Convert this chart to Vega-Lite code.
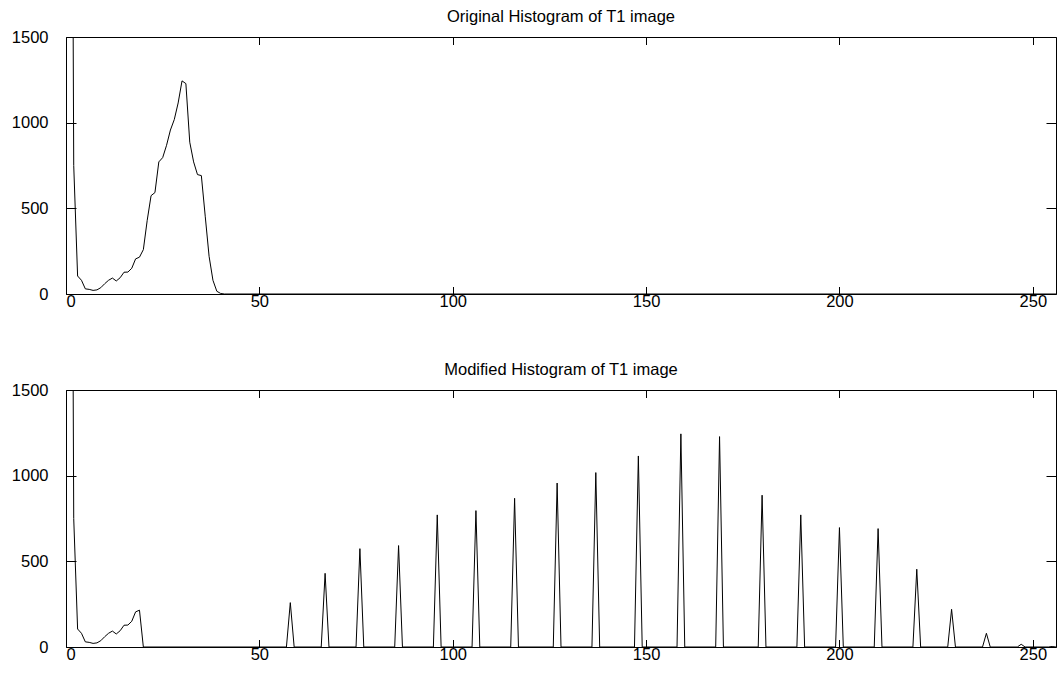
{
  "$schema": "https://vega.github.io/schema/vega-lite/v6.json",
  "background": "white",
  "padding": {"left": 10, "top": 8, "right": 2, "bottom": 5},
  "datasets": {
    "original": [
      {"level": 1, "count": 6000}, {"level": 2, "count": 750}, {"level": 3, "count": 105},
      {"level": 4, "count": 80}, {"level": 5, "count": 30}, {"level": 6, "count": 27},
      {"level": 7, "count": 21}, {"level": 8, "count": 24}, {"level": 9, "count": 37},
      {"level": 10, "count": 60}, {"level": 11, "count": 80}, {"level": 12, "count": 93},
      {"level": 13, "count": 76}, {"level": 14, "count": 95}, {"level": 15, "count": 127},
      {"level": 16, "count": 128}, {"level": 17, "count": 150}, {"level": 18, "count": 205},
      {"level": 19, "count": 215}, {"level": 20, "count": 259}, {"level": 21, "count": 430},
      {"level": 22, "count": 574}, {"level": 23, "count": 592}, {"level": 24, "count": 771},
      {"level": 25, "count": 796}, {"level": 26, "count": 868}, {"level": 27, "count": 957},
      {"level": 28, "count": 1018}, {"level": 29, "count": 1115}, {"level": 30, "count": 1244},
      {"level": 31, "count": 1228}, {"level": 32, "count": 886}, {"level": 33, "count": 771},
      {"level": 34, "count": 697}, {"level": 35, "count": 691}, {"level": 36, "count": 454},
      {"level": 37, "count": 220}, {"level": 38, "count": 80}, {"level": 39, "count": 16},
      {"level": 40, "count": 3}, {"level": 41, "count": 0}, {"level": 256, "count": 0}
    ],
    "modified": [
      {"level": 1, "count": 6000}, {"level": 2, "count": 750}, {"level": 3, "count": 105},
      {"level": 4, "count": 80}, {"level": 5, "count": 30}, {"level": 6, "count": 27},
      {"level": 7, "count": 21}, {"level": 8, "count": 24}, {"level": 9, "count": 37},
      {"level": 10, "count": 60}, {"level": 11, "count": 80}, {"level": 12, "count": 93},
      {"level": 13, "count": 76}, {"level": 14, "count": 95}, {"level": 15, "count": 127},
      {"level": 16, "count": 128}, {"level": 17, "count": 150}, {"level": 18, "count": 205},
      {"level": 19, "count": 215}, {"level": 20, "count": 0},
      {"level": 57, "count": 0}, {"level": 58, "count": 259}, {"level": 59, "count": 0},
      {"level": 66, "count": 0}, {"level": 67, "count": 430}, {"level": 68, "count": 0},
      {"level": 75, "count": 0}, {"level": 76, "count": 574}, {"level": 77, "count": 0},
      {"level": 85, "count": 0}, {"level": 86, "count": 592}, {"level": 87, "count": 0},
      {"level": 95, "count": 0}, {"level": 96, "count": 771}, {"level": 97, "count": 0},
      {"level": 105, "count": 0}, {"level": 106, "count": 796}, {"level": 107, "count": 0},
      {"level": 115, "count": 0}, {"level": 116, "count": 868}, {"level": 117, "count": 0},
      {"level": 126, "count": 0}, {"level": 127, "count": 957}, {"level": 128, "count": 0},
      {"level": 136, "count": 0}, {"level": 137, "count": 1018}, {"level": 138, "count": 0},
      {"level": 147, "count": 0}, {"level": 148, "count": 1115}, {"level": 149, "count": 0},
      {"level": 158, "count": 0}, {"level": 159, "count": 1244}, {"level": 160, "count": 0},
      {"level": 168, "count": 0}, {"level": 169, "count": 1228}, {"level": 170, "count": 0},
      {"level": 179, "count": 0}, {"level": 180, "count": 886}, {"level": 181, "count": 0},
      {"level": 189, "count": 0}, {"level": 190, "count": 771}, {"level": 191, "count": 0},
      {"level": 199, "count": 0}, {"level": 200, "count": 697}, {"level": 201, "count": 0},
      {"level": 209, "count": 0}, {"level": 210, "count": 691}, {"level": 211, "count": 0},
      {"level": 219, "count": 0}, {"level": 220, "count": 454}, {"level": 221, "count": 0},
      {"level": 228, "count": 0}, {"level": 229, "count": 220}, {"level": 230, "count": 0},
      {"level": 237, "count": 0}, {"level": 238, "count": 80}, {"level": 239, "count": 0},
      {"level": 246, "count": 0}, {"level": 247, "count": 16}, {"level": 248, "count": 0},
      {"level": 254, "count": 0}, {"level": 255, "count": 3}, {"level": 256, "count": 0}
    ]
  },
  "config": {
    "view": {"stroke": "black", "strokeWidth": 1},
    "font": "Liberation Sans",
    "axis": {
      "grid": false,
      "domain": false,
      "tickColor": "black",
      "tickWidth": 1,
      "labelColor": "black",
      "labelFont": "Liberation Sans",
      "labelFontSize": 16.5,
      "format": "d",
      "title": null
    },
    "title": {"font": "Liberation Sans", "fontSize": 16.5, "fontWeight": "normal", "color": "black", "offset": 4}
  },
  "bounds": "flush",
  "spacing": 96,
  "vconcat": [
    {
      "title": "Original Histogram of T1 image",
      "width": 990,
      "height": 257,
      "data": {"name": "original"},
      "layer": [
        {
          "mark": {"type": "line", "color": "black", "strokeWidth": 1, "clip": true},
          "encoding": {
            "x": {"field": "level", "type": "quantitative", "scale": {"domain": [0, 256], "nice": false, "zero": false},
                  "axis": {"orient": "bottom", "values": [0, 50, 100, 150, 200, 250], "tickSize": -7.5, "labelPadding": 7}},
            "y": {"field": "count", "type": "quantitative", "scale": {"domain": [0, 1500], "nice": false},
                  "axis": {"orient": "left", "values": [0, 500, 1000, 1500], "tickSize": -10, "labelPadding": 28}}
          }
        },
        {
          "mark": {"type": "line", "opacity": 0, "clip": true},
          "encoding": {
            "x": {"field": "level", "type": "quantitative",
                  "axis": {"orient": "top", "values": [0, 50, 100, 150, 200, 250], "tickSize": -7.5, "labels": false}},
            "y": {"field": "count", "type": "quantitative",
                  "axis": {"orient": "right", "values": [0, 500, 1000, 1500], "tickSize": -10, "labels": false}}
          }
        }
      ],
      "resolve": {"axis": {"x": "independent", "y": "independent"}}
    },
    {
      "title": "Modified Histogram of T1 image",
      "width": 990,
      "height": 257,
      "data": {"name": "modified"},
      "layer": [
        {
          "mark": {"type": "line", "color": "black", "strokeWidth": 1, "clip": true},
          "encoding": {
            "x": {"field": "level", "type": "quantitative", "scale": {"domain": [0, 256], "nice": false, "zero": false},
                  "axis": {"orient": "bottom", "values": [0, 50, 100, 150, 200, 250], "tickSize": -7.5, "labelPadding": 7}},
            "y": {"field": "count", "type": "quantitative", "scale": {"domain": [0, 1500], "nice": false},
                  "axis": {"orient": "left", "values": [0, 500, 1000, 1500], "tickSize": -10, "labelPadding": 28}}
          }
        },
        {
          "mark": {"type": "line", "opacity": 0, "clip": true},
          "encoding": {
            "x": {"field": "level", "type": "quantitative",
                  "axis": {"orient": "top", "values": [0, 50, 100, 150, 200, 250], "tickSize": -7.5, "labels": false}},
            "y": {"field": "count", "type": "quantitative",
                  "axis": {"orient": "right", "values": [0, 500, 1000, 1500], "tickSize": -10, "labels": false}}
          }
        }
      ],
      "resolve": {"axis": {"x": "independent", "y": "independent"}}
    }
  ]
}
